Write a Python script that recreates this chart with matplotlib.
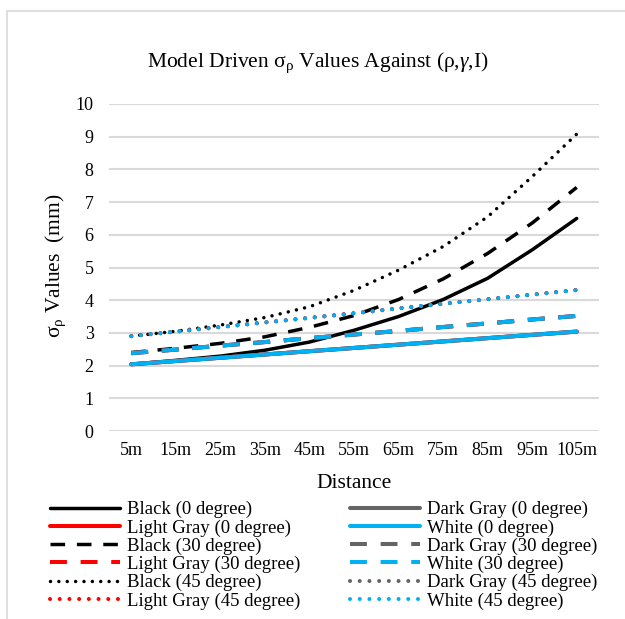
import matplotlib
matplotlib.use("Agg")
import matplotlib.pyplot as plt
from matplotlib.patches import Rectangle

plt.rcParams['font.family'] = ['Liberation Serif', 'DejaVu Serif']
plt.rcParams['mathtext.fontset'] = 'custom'
plt.rcParams['mathtext.rm'] = 'Liberation Serif'
plt.rcParams['mathtext.it'] = 'Liberation Serif:italic'

distances = ['5m', '15m', '25m', '35m', '45m', '55m', '65m', '75m', '85m', '95m', '105m']

# sigma_rho (mm) for each surface colour and incidence angle
black_0 = [2.04, 2.16, 2.29, 2.47, 2.72, 3.08, 3.50, 4.02, 4.67, 5.54, 6.50]
dgray_0 = [2.04, 2.14, 2.24, 2.34, 2.44, 2.54, 2.64, 2.74, 2.84, 2.94, 3.04]
lgray_0 = [2.04, 2.14, 2.24, 2.34, 2.44, 2.54, 2.64, 2.74, 2.84, 2.94, 3.04]
white_0 = [2.04, 2.14, 2.24, 2.34, 2.44, 2.54, 2.64, 2.74, 2.84, 2.94, 3.04]

black_30 = [2.40, 2.53, 2.68, 2.88, 3.17, 3.53, 4.02, 4.65, 5.43, 6.36, 7.45]
dgray_30 = [2.38, 2.49, 2.61, 2.72, 2.84, 2.95, 3.06, 3.18, 3.29, 3.41, 3.52]
lgray_30 = [2.38, 2.49, 2.61, 2.72, 2.84, 2.95, 3.06, 3.18, 3.29, 3.41, 3.52]
white_30 = [2.38, 2.49, 2.61, 2.72, 2.84, 2.95, 3.06, 3.18, 3.29, 3.41, 3.52]

black_45 = [2.90, 3.05, 3.24, 3.47, 3.80, 4.30, 4.92, 5.64, 6.55, 7.78, 9.08]
dgray_45 = [2.90, 3.04, 3.18, 3.32, 3.46, 3.60, 3.75, 3.89, 4.03, 4.17, 4.31]
lgray_45 = [2.90, 3.04, 3.18, 3.32, 3.46, 3.60, 3.75, 3.89, 4.03, 4.17, 4.31]
white_45 = [2.90, 3.04, 3.18, 3.32, 3.46, 3.60, 3.75, 3.89, 4.03, 4.17, 4.31]

C_BLACK = '#000000'
C_DGRAY = '#646464'
C_LGRAY = '#ff0000'
C_WHITE = '#00b0f0'

SOLID = '-'
DASH = (0, (4.2, 3.4))
DOT = (0, (0.01, 2.4))

series = [
    (black_0, C_BLACK, SOLID, 'Black (0 degree)'),
    (dgray_0, C_DGRAY, SOLID, 'Dark Gray (0 degree)'),
    (lgray_0, C_LGRAY, SOLID, 'Light Gray (0 degree)'),
    (white_0, C_WHITE, SOLID, 'White (0 degree)'),
    (black_30, C_BLACK, DASH, 'Black (30 degree)'),
    (dgray_30, C_DGRAY, DASH, 'Dark Gray (30 degree)'),
    (lgray_30, C_LGRAY, DASH, 'Light Gray (30 degree)'),
    (white_30, C_WHITE, DASH, 'White (30 degree)'),
    (black_45, C_BLACK, DOT, 'Black (45 degree)'),
    (dgray_45, C_DGRAY, DOT, 'Dark Gray (45 degree)'),
    (lgray_45, C_LGRAY, DOT, 'Light Gray (45 degree)'),
    (white_45, C_WHITE, DOT, 'White (45 degree)'),
]

W, H = 625, 619
fig = plt.figure(figsize=(W / 100, H / 100), dpi=100)
ax = fig.add_axes([109 / W, 1 - 431 / H, 490 / W, 327 / H])

x = list(range(len(distances)))
handles = []
for vals, col, ls, lab in series:
    lw = 2.5 if col == C_BLACK else 2.9
    ln, = ax.plot(x, vals, color=col, linestyle=ls, lw=lw, label=lab,
                  dash_capstyle='round' if ls == DOT else 'butt',
                  solid_capstyle='round')
    handles.append(ln)

ax.set_xlim(-0.5, len(distances) - 0.5)
ax.set_ylim(0, 10)
ax.set_yticks(range(0, 11))
ax.set_xticks(x)
ax.set_xticklabels(distances)
ax.grid(axis='y', color='#d9d9d9', lw=1.5)
ax.set_axisbelow(True)
for s in ax.spines.values():
    s.set_visible(False)
ax.tick_params(axis='both', length=0, labelsize=13, colors='#000000')
ax.tick_params(axis='x', pad=8)
ax.tick_params(axis='y', pad=11)

fig.text(318 / W, 1 - 63 / H,
         r'Model Driven σ$_{\mathrm{ρ}}$ Values Against (ρ,$\gamma$,I)',
         ha='center', va='center', fontsize=15.5)
fig.text(354 / W, 1 - 484 / H, 'Distance', ha='center', va='center', fontsize=15.5)
fig.text(56 / W, 1 - 266 / H, r'σ$_{\mathrm{ρ}}$ Values  (mm)', ha='center', va='center',
         rotation=90, fontsize=15.5)

# legend is filled row by row: left column gets the even entries
left = [handles[i] for i in range(0, 12, 2)]
right = [handles[i] for i in range(1, 12, 2)]
common = dict(loc='upper left', frameon=False, fontsize=13.5, borderpad=0,
              borderaxespad=0, handlelength=3.75, handletextpad=0.37,
              labelspacing=0.05)
fig.legend(handles=left, labels=[h.get_label() for h in left],
           bbox_to_anchor=(50 / W, 1 - 501 / H), **common)
fig.legend(handles=right, labels=[h.get_label() for h in right],
           bbox_to_anchor=(350 / W, 1 - 501 / H), **common)

# chart area border
fig.patches.append(Rectangle((7 / W, -0.05), 1.2, 1 - 11 / H + 0.05,
                             transform=fig.transFigure, fill=False,
                             edgecolor='#d9d9d9', lw=1.2))

fig.savefig('out.png', dpi=100)
